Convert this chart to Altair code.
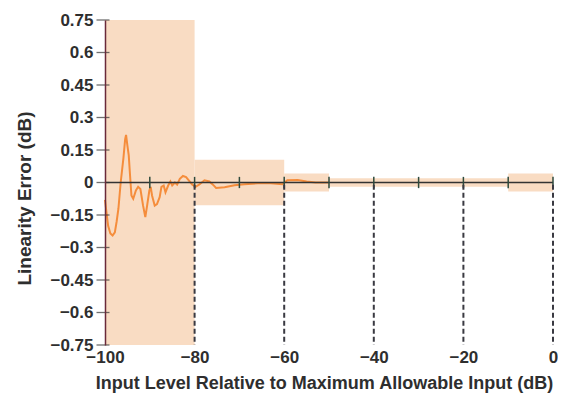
import altair as alt
import pandas as pd

# Measured linearity error curve (dB)
x_db = [-100, -99.6, -99.3, -98.8, -98.3, -97.8, -97.4, -97.0, -96.5, -95.9, -95.5, -95.3, -95.0,
        -94.7, -94.4, -94.1, -93.7, -93.1, -92.6, -92.1, -91.5, -91.0, -90.6, -90.1, -89.8, -89.5,
        -88.9, -88.4, -87.8, -87.4, -86.9, -86.5, -85.9, -85.4, -85.0, -84.4, -83.9, -83.3, -82.6,
        -81.9, -81.3, -80.5, -79.8, -79.0, -77.8, -76.7, -75.9, -75.2, -73.3, -71.1, -68.9, -65.9,
        -63.0, -60.4, -59.3, -57.0, -55.0, -53.0, -50.0]
y_err = [-0.08, -0.15, -0.20, -0.235, -0.245, -0.23, -0.18, -0.12, 0.0, 0.11, 0.2, 0.22, 0.17,
         0.125, 0.03, -0.06, -0.075, -0.037, -0.02, -0.03, -0.107, -0.16, -0.107, -0.037, -0.02, -0.06,
         -0.107, -0.10, -0.068, -0.02, -0.014, -0.045, -0.014, 0.005, -0.014, 0.0, -0.01, 0.017, 0.03,
         0.025, 0.01, -0.01, -0.02, -0.01, 0.01, 0.005, -0.01, -0.025, -0.022, -0.013, -0.008, -0.004,
         -0.004, -0.008, 0.01, 0.012, 0.005, 0.0, 0.0]

# Specification bands
band_start = [-100, -80, -60, -50, -10]
band_end = [-80, -60, -50, -10, 0]
band_tol = [0.75, 0.105, 0.042, 0.02, 0.042]

# Minor ticks on zero line and dashed markers
zero_ticks = [-90, -80, -70, -60, -50, -40, -30, -20, -10, 0]
dash_marks = [-80, -60, -40, -20, 0]

y_ticks = [0.75, 0.6, 0.45, 0.3, 0.15, 0, -0.15, -0.3, -0.45, -0.6, -0.75]
x_ticks = [-100, -80, -60, -40, -20, 0]

curve = pd.DataFrame({"x": x_db, "y": y_err})
bands = pd.DataFrame({"x": band_start, "x2": band_end,
                      "y": [-t for t in band_tol], "y2": band_tol})
zt = pd.DataFrame({"x": zero_ticks, "y": [-0.026] * len(zero_ticks), "y2": [0.026] * len(zero_ticks)})
dm = pd.DataFrame({"x": dash_marks, "y": [-0.01] * len(dash_marks), "y2": [-0.75] * len(dash_marks)})
zl = pd.DataFrame({"x": [-100], "x2": [0], "y": [0.0]})
yt = pd.DataFrame({"x": [-100] * len(y_ticks), "y": y_ticks})

FONT = "Liberation Sans"
TXT = "#2e2e2e"

xs = alt.Scale(domain=[-100, 0], nice=False, zero=False)
ys = alt.Scale(domain=[-0.75, 0.75], nice=False, zero=False)

x_axis = alt.Axis(values=x_ticks, title="Input Level Relative to Maximum Allowable Input (dB)",
                  domain=False, ticks=False, grid=False, labelPadding=4, format="d",
                  labelOverlap=False, labelFlush=False,
                  labelFont=FONT, labelFontSize=17, labelFontWeight="bold", labelColor=TXT,
                  titleFont=FONT, titleFontSize=18, titleFontWeight="bold", titleColor=TXT,
                  titleX=219, titleY=29, titleBaseline="top")
y_axis = alt.Axis(values=y_ticks, title="Linearity Error (dB)", format=".2~f",
                  domain=True, domainColor="#6a2a3a", domainWidth=1.5, ticks=False, grid=False,
                  labelPadding=12, labelOverlap=False, labelFlush=False, zindex=1,
                  labelFont=FONT, labelFontSize=17, labelFontWeight="bold",
                  labelColor=TXT, titleFont=FONT, titleFontSize=19, titleFontWeight="bold",
                  titleColor=TXT, titleX=-81, titleY=178, titleBaseline="middle")


def X(field="x"):
    return alt.X(f"{field}:Q", scale=xs, axis=x_axis)


def Y(field="y"):
    return alt.Y(f"{field}:Q", scale=ys, axis=y_axis)


band_layer = alt.Chart(bands).mark_rect(color="#f9dcc3", opacity=1).encode(
    x=X(), x2="x2:Q", y=Y(), y2="y2:Q")

line_layer = alt.Chart(curve).mark_line(color="#f58d3c", strokeWidth=2).encode(x=X(), y=Y())

zero_layer = alt.Chart(zl).mark_rule(color="#333333", strokeWidth=1.4).encode(
    x=X(), x2="x2:Q", y=Y())

ztick_layer = alt.Chart(zt).mark_rule(color="#2f4a3c", strokeWidth=1.5).encode(
    x=X(), y=Y(), y2="y2:Q")

dash_layer = alt.Chart(dm).mark_rule(color="#3a3a42", strokeWidth=2, strokeDash=[5, 3]).encode(
    x=X(), y=Y(), y2="y2:Q")

ytick_layer = alt.Chart(yt).mark_tick(color="#333333", orient="horizontal", size=13, thickness=1.3,
                                      xOffset=-2).encode(x=X(), y=Y())

chart = alt.layer(band_layer, line_layer, zero_layer, ztick_layer, dash_layer, ytick_layer).properties(
    width=448, height=325,
    background="white",
    autosize=alt.AutoSizeParams(type="none"),
    padding={"left": 97, "top": 12, "right": 5, "bottom": 48},
).configure_view(stroke=None).configure_axis(labelOverlap=False)

chart.save("out.html", embed_options={"renderer": "svg", "actions": False})
